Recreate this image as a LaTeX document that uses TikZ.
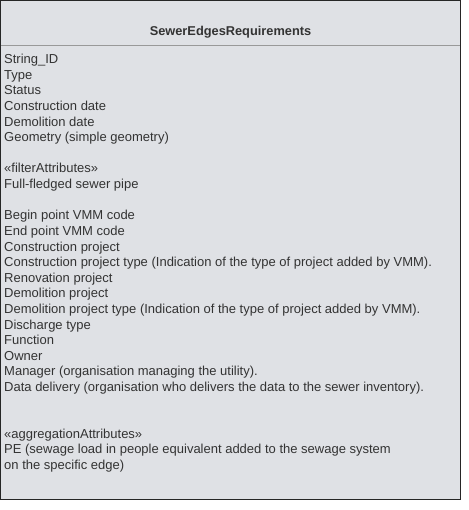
\documentclass[tikz,border=0pt]{standalone}
\usepackage{fontspec}
\setmainfont{Liberation Sans}
\definecolor{classfill}{HTML}{DFE1E5}
\definecolor{classtext}{HTML}{333333}
\definecolor{classline}{HTML}{999999}
\begin{document}
\begin{tikzpicture}[x=1pt,y=-1pt,
  attr/.style={anchor=base west,inner sep=0pt,text=classtext,font=\fontsize{13}{15}\selectfont},
  title/.style={anchor=base,inner sep=0pt,text=classtext,font=\fontsize{12.8}{15}\selectfont\bfseries}]
\useasboundingbox (0,0) rectangle (468,510);
% class box
\draw[fill=classfill,draw=black!85,line width=1pt] (0.5,0.5) rectangle (460.5,499.5);
\draw[classline,line width=1pt] (1,45.5) -- (460,45.5);
\node[title] (name) at (230.5,36) {SewerEdgesRequirements};
% attribute compartment, one line every 15.6pt
\foreach \t [count=\i from 0] in {
  String\_ID,
  Type,
  Status,
  Construction date,
  Demolition date,
  Geometry (simple geometry),
  {},
  «filterAttributes»,
  Full-fledged sewer pipe,
  {},
  Begin point VMM code,
  End point VMM code,
  Construction project,
  Construction project type (Indication of the type of project added by VMM).,
  Renovation project,
  Demolition project,
  Demolition project type (Indication of the type of project added by VMM).,
  Discharge type,
  Function,
  Owner,
  Manager (organisation managing the utility).,
  Data delivery (organisation who delivers the data to the sewer inventory).,
  {},
  {},
  «aggregationAttributes»,
  PE (sewage load in people equivalent added to the sewage system,
  on the specific edge)}
  \node[attr] (attr\i) at (4,63.8+15.6*\i) {\t};
\end{tikzpicture}
\end{document}
